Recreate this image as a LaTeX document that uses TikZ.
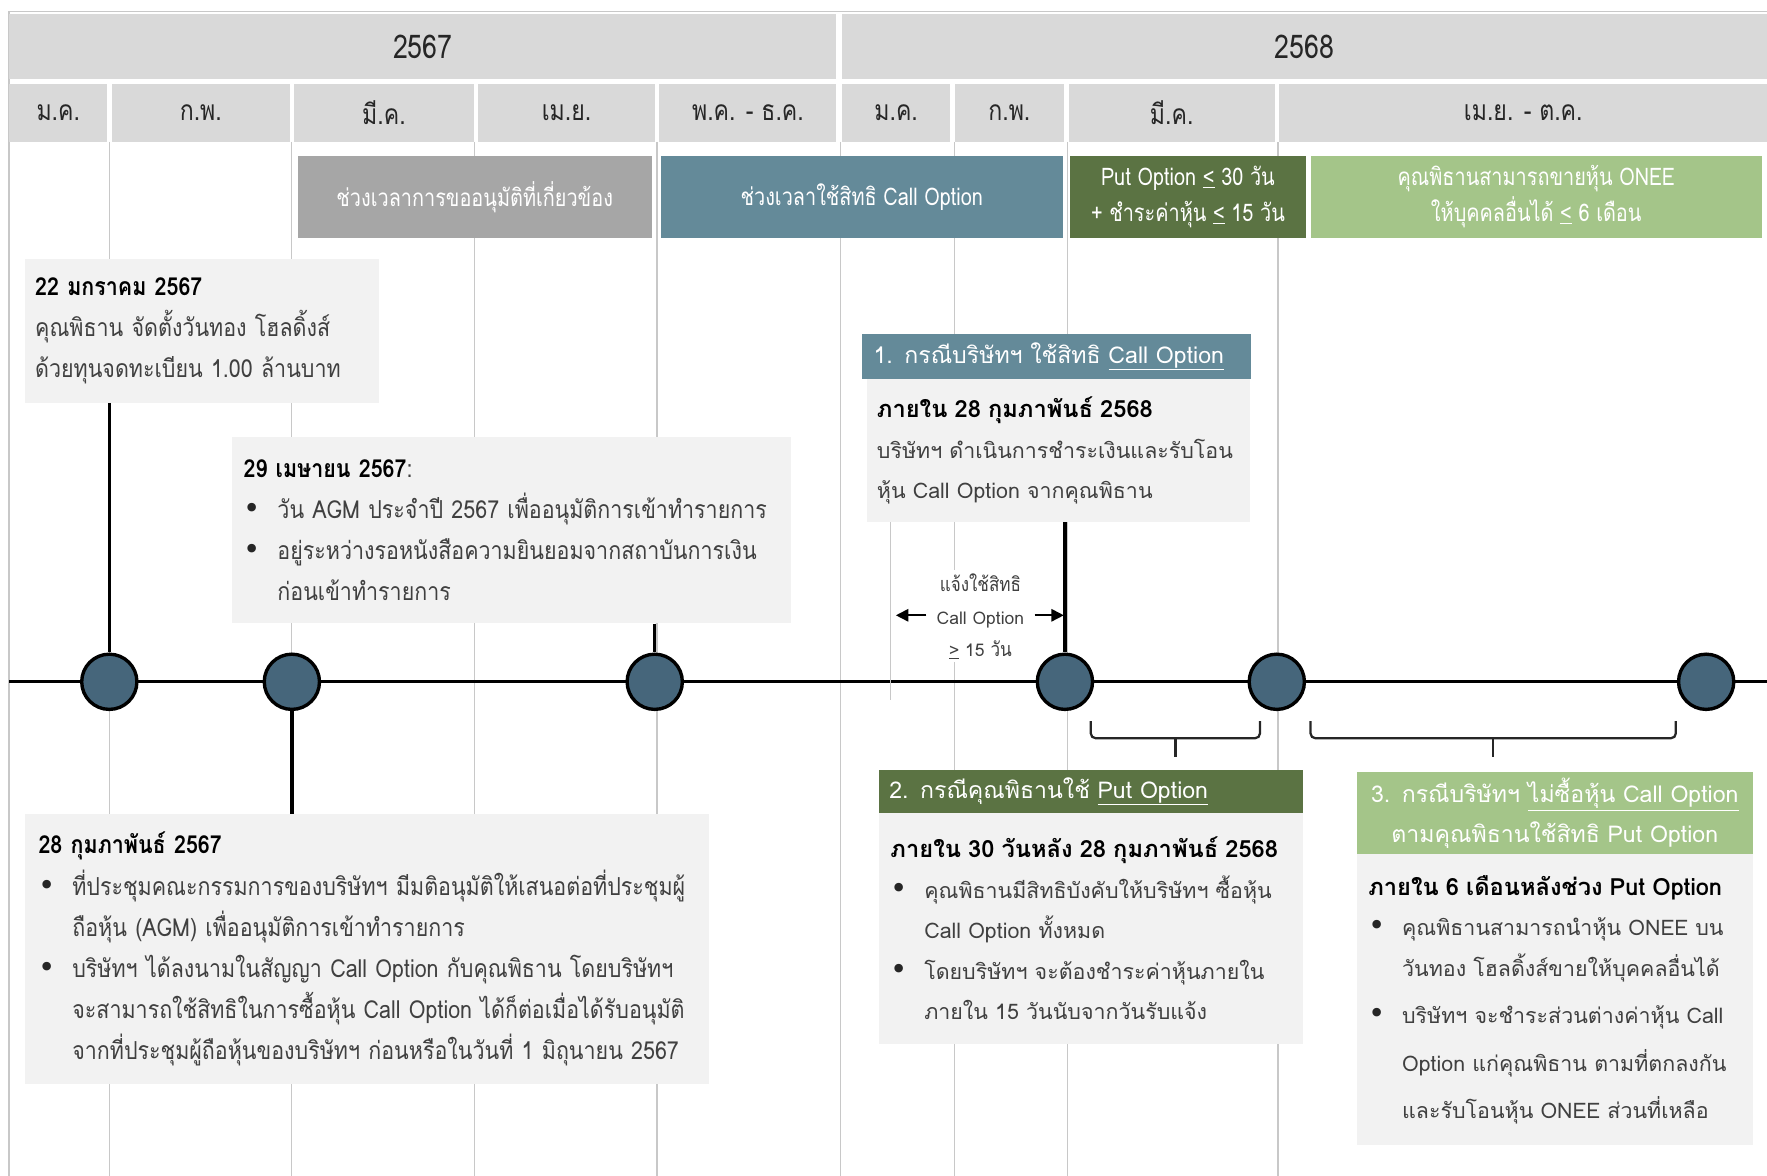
\documentclass[tikz,border=0pt]{standalone}
\usepackage{fontspec}
\setmainfont{Loma}[Script=Thai]
\newfontfamily\nar{Loma}[Script=Thai,FakeStretch=0.865]
\newfontfamily\narb{Loma}[Script=Thai,FakeStretch=0.82]
\newfontfamily\dejavu{DejaVu Sans}
\usetikzlibrary{arrows.meta}
\definecolor{hdr}{HTML}{D9D9D9}
\definecolor{gridc}{HTML}{C8C8C8}
\definecolor{bandgray}{HTML}{A6A6A6}
\definecolor{tealc}{HTML}{648A99}
\definecolor{dkgreen}{HTML}{5B7343}
\definecolor{ltgreen}{HTML}{A4C589}
\definecolor{evtfill}{HTML}{46667B}
\definecolor{boxbg}{HTML}{F2F2F2}
\definecolor{bodytxt}{HTML}{404040}
\definecolor{hdrtxt}{HTML}{262626}
\newcommand\bul{\makebox[30pt][l]{{\dejavu\fontsize{26}{26}\selectfont\color{black!85}•}}}
\newcommand\ind{\hspace*{30pt}}
\newcommand\ttl[1]{{\bfseries\color{black}#1}}
\newcommand\cttl[1]{{\fontsize{21}{36}\selectfont\bfseries\color{black}#1}}
\newcommand\annth[1]{{\nar\fontsize{17.5}{29}\selectfont #1}}
\tikzset{
  hcell/.style={fill=hdr, anchor=north west, inner sep=0pt, text=hdrtxt,
    font=\narb\fontsize{25}{25}\selectfont},
  gridln/.style={draw=gridc, line width=1pt},
  band/.style={anchor=north west, inner sep=0pt, text=white, align=center,
    font=\narb\fontsize{21.5}{32}\selectfont},
  infobox/.style={fill=boxbg, anchor=north west, inner ysep=0pt, align=left,
    text=bodytxt, font=\nar\fontsize{22}{36.5}\selectfont},
  casebox/.style={fill=boxbg, anchor=north west, inner ysep=0pt, align=left,
    text=bodytxt, font=\fontsize{19}{36}\selectfont},
  casehead/.style={anchor=north west, inner ysep=0pt, text=white,
    font=\fontsize{20.5}{36}\selectfont},
  evt/.style={circle, fill=evtfill, draw=black, line width=3pt, minimum size=49pt, inner sep=0pt},
  conn/.style={draw=black, line width=3pt},
  bracel/.style={draw=black!85, line width=2pt, rounded corners=4pt},
  notearrow/.style={line width=1.5pt, -{Triangle[length=11pt,width=11pt]}},
}
\begin{document}
\begin{tikzpicture}[x=1pt,y=-1pt]
\useasboundingbox (0,0) rectangle (1568,1043.5);
% grid lines
\draw[gridln] (8,10) -- (1568,10);
\draw[gridln] (8,10) -- (8,1043.5);
\foreach \gx in {97,259,421,583,746,847,947,1134}
  \draw[gridln] (\gx,126) -- (\gx,1043.5);
% header
\node[hcell, font=\narb\fontsize{29}{29}\selectfont, minimum width=734pt, minimum height=58pt] (y67) at (8,12) {2567};
\node[hcell, font=\narb\fontsize{29}{29}\selectfont, minimum width=821pt, minimum height=58pt] (y68) at (747,12) {2568};
\node[hcell, minimum width=87pt,  minimum height=52pt] (m1) at (8,74) {ม.ค.};
\node[hcell, minimum width=158pt, minimum height=52pt] (m2) at (99,74) {ก.พ.};
\node[hcell, minimum width=159pt, minimum height=52pt] (m3) at (261,74) {มี.ค.};
\node[hcell, minimum width=157pt, minimum height=52pt] (m4) at (424,74) {เม.ย.};
\node[hcell, minimum width=157pt, minimum height=52pt] (m5) at (585,74) {พ.ค. - ธ.ค.};
\node[hcell, minimum width=96pt,  minimum height=52pt] (m6) at (747,74) {ม.ค.};
\node[hcell, minimum width=97pt,  minimum height=52pt] (m7) at (847,74) {ก.พ.};
\node[hcell, minimum width=183pt, minimum height=52pt] (m8) at (948,74) {มี.ค.};
\node[hcell, minimum width=433pt, minimum height=52pt] (m9) at (1135,74) {เม.ย. - ต.ค.};
% bands
\node[band, fill=bandgray, minimum width=314pt, minimum height=73pt] (b1) at (264,138) {ช่วงเวลาการขออนุมัติที่เกี่ยวข้อง};
\node[band, fill=tealc, minimum width=357pt, minimum height=73pt] (b2) at (586,138) {ช่วงเวลาใช้สิทธิ Call Option};
\node[band, fill=dkgreen, minimum width=210pt, minimum height=73pt] (b3) at (949,138) {Put Option \underline{<} 30 วัน\\+ ชำระค่าหุ้น \underline{<} 15 วัน};
\node[band, fill=ltgreen, minimum width=400pt, minimum height=73pt] (b4) at (1163,138) {คุณพิธานสามารถขายหุ้น ONEE\\ให้บุคคลอื่นได้ \underline{<} 6 เดือน};
% timeline
\draw[conn] (8,605) -- (1568,605);
% info boxes (left)
\node[infobox, inner xsep=9pt, text width=296pt, minimum height=127pt] (bx1) at (22,230)
 {\ttl{22 มกราคม 2567}\\
  คุณพิธาน จัดตั้งวันทอง โฮลดิ้งส์\\
  ด้วยทุนจดทะเบียน 1.00 ล้านบาท};
\node[infobox, inner xsep=10pt, text width=476pt, minimum height=165pt] (bx2) at (206,388)
 {\ttl{29 เมษายน 2567}:\\
  \bul วัน AGM ประจำปี 2567 เพื่ออนุมัติการเข้าทำรายการ\\
  \bul อยู่ระหว่างรอหนังสือความยินยอมจากสถาบันการเงิน\\
  \ind ก่อนเข้าทำรายการ};
\node[infobox, inner xsep=12pt, text width=583pt, minimum height=240pt] (bx3) at (22,722)
 {\ttl{28 กุมภาพันธ์ 2567}\\
  \bul ที่ประชุมคณะกรรมการของบริษัทฯ มีมติอนุมัติให้เสนอต่อที่ประชุมผู้\\
  \ind ถือหุ้น (AGM) เพื่ออนุมัติการเข้าทำรายการ\\
  \bul บริษัทฯ ได้ลงนามในสัญญา Call Option กับคุณพิธาน โดยบริษัทฯ\\
  \ind จะสามารถใช้สิทธิในการซื้อหุ้น Call Option ได้ก็ต่อเมื่อได้รับอนุมัติ\\
  \ind จากที่ประชุมผู้ถือหุ้นของบริษัทฯ ก่อนหรือในวันที่ 1 มิถุนายน 2567};
% case 1
\node[casehead, fill=tealc, inner xsep=10pt, text width=325pt, minimum height=40pt] (k1h) at (765,296)
 {1. กรณีบริษัทฯ ใช้สิทธิ \underline{Call Option}};
\node[casebox, inner xsep=9pt, text width=322pt, minimum height=127pt] (k1b) at (769,336)
 {\cttl{ภายใน 28 กุมภาพันธ์ 2568}\\
  บริษัทฯ ดำเนินการชำระเงินและรับโอน\\
  หุ้น Call Option จากคุณพิธาน};
% case 2
\node[casehead, fill=dkgreen, inner xsep=9pt, text width=358pt, minimum height=38pt] (k2h) at (780,683)
 {2. กรณีคุณพิธานใช้ \underline{Put Option}};
\node[casebox, inner xsep=10pt, text width=356pt, minimum height=205pt] (k2b) at (780,721)
 {\cttl{ภายใน 30 วันหลัง 28 กุมภาพันธ์ 2568}\\
  \bul คุณพิธานมีสิทธิบังคับให้บริษัทฯ ซื้อหุ้น\\
  \ind Call Option ทั้งหมด\\
  \bul โดยบริษัทฯ จะต้องชำระค่าหุ้นภายใน\\
  \ind ภายใน 15 วันนับจากวันรับแจ้ง};
% case 3
\node[casehead, fill=ltgreen, align=center, inner xsep=4pt, text width=343pt, minimum height=73pt] (k3h) at (1204,685)
 {3. กรณีบริษัทฯ \underline{ไม่ซื้อหุ้น Call Option}\\ตามคุณพิธานใช้สิทธิ Put Option};
\node[casebox, inner xsep=10pt, text width=331pt, minimum height=258pt] (k3b) at (1204,758)
 {\cttl{ภายใน 6 เดือนหลังช่วง Put Option}\\
  \bul คุณพิธานสามารถนำหุ้น ONEE บน\\
  \ind วันทอง โฮลดิ้งส์ขายให้บุคคลอื่นได้\\[6pt]
  \bul บริษัทฯ จะชำระส่วนต่างค่าหุ้น Call\\[6pt]
  \ind Option แก่คุณพิธาน ตามที่ตกลงกัน\\[6pt]
  \ind และรับโอนหุ้น ONEE ส่วนที่เหลือ};
% events
\node[evt] (c1) at (97,605) {};
\node[evt] (c2) at (259,605) {};
\node[evt] (c3) at (581,605) {};
\node[evt] (c4) at (945,605) {};
\node[evt] (c5) at (1133,605) {};
\node[evt] (c6) at (1514,605) {};
% connectors
\draw[conn] (bx1.south -| c1) -- (c1.north);
\draw[conn] (c2.south) -- (c2 |- bx3.north);
\draw[conn] (bx2.south -| c3) -- (c3.north);
\draw[conn] (k1b.south -| c4) -- (c4.north);
% notice annotation
\coordinate (mk) at (790,621);
\draw[gridln] (k1b.south -| mk) -- (mk);
\node[fill=white, inner xsep=9pt, inner ysep=3pt, align=center, text=bodytxt, font=\fontsize{15.5}{29}\selectfont] (ann) at (870,547)
 {\annth{แจ้งใช้สิทธิ}\\Call Option\\\underline{>} 15 \annth{วัน}};
\coordinate (aL) at (795,546);
\coordinate (aR) at (944,546);
\draw[notearrow] (ann.west |- aL) -- (aL);
\draw[notearrow] (ann.east |- aR) -- (aR);
% braces
\draw[bracel] (968,640) -- (968,655) -- (1118,655) -- (1118,640);
\draw[bracel] (1043,655) -- (1043,672);
\draw[bracel] (1163,640) -- (1163,655) -- (1487,655) -- (1487,640);
\draw[bracel] (1325,655) -- (1325,672);
\end{tikzpicture}
\end{document}
